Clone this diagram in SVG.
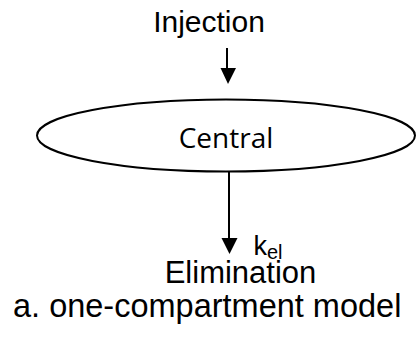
<svg xmlns="http://www.w3.org/2000/svg" width="417" height="340" viewBox="0 0 417 340">
  <style>
    .lbl { font-family: "Liberation Sans", Arial, sans-serif; fill: #000; }
    .node-text { font-family: "Open Sans", "Liberation Sans", sans-serif; fill: #000; }
    .edge { stroke: #000; stroke-width: 2; fill: none; }
    .head { fill: #000; }
  </style>
  <rect width="417" height="340" fill="#fff"/>

  <g id="injection">
    <text class="lbl" x="209" y="32" font-size="30" text-anchor="middle">Injection</text>
  </g>

  <g id="central">
    <ellipse cx="226" cy="135.5" rx="189" ry="36" fill="#fff" stroke="#000" stroke-width="2"/>
    <text class="node-text" x="226" y="148" font-size="28" text-anchor="middle">Central</text>
  </g>

  <g id="elimination">
    <text class="lbl" x="240.5" y="282.5" font-size="31" text-anchor="middle">Elimination</text>
  </g>

  <g id="connectors">
    <line class="edge" x1="227" y1="48" x2="227" y2="70"/>
    <polygon class="head" points="220.5,68 236,68 228,84"/>
    <line class="edge" x1="229" y1="172" x2="229" y2="240"/>
    <polygon class="head" points="221.5,238 237.5,238 229.5,254"/>
    <text class="lbl" x="253.5" y="254.5" font-size="27">k<tspan font-size="20" dy="4">el</tspan></text>
  </g>

  <text class="lbl" x="13" y="317" font-size="32.5">a. one-compartment model</text>
</svg>
